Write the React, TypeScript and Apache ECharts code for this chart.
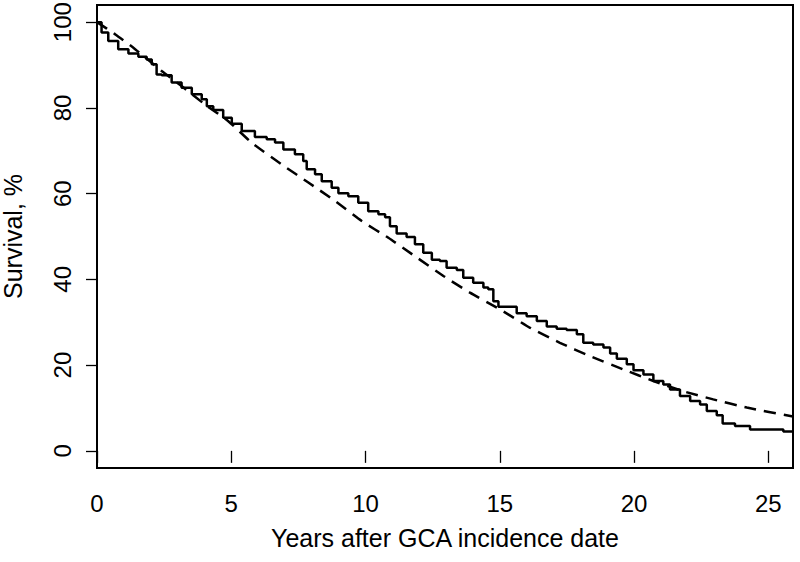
import React, { useEffect, useRef } from "react";
import * as echarts from "echarts";

// Kaplan-Meier observed survival (years, %)
const kmTime = [0, 0.17, 0.42, 0.79, 1.17, 1.54, 1.85, 2.04, 2.22, 2.41, 2.78, 3.15, 3.53, 3.9, 4.09, 4.33, 4.7, 5.02, 5.39, 5.88, 6.32, 6.63, 6.94, 7.37, 7.68, 7.81, 8.12, 8.37, 8.74, 8.99, 9.36, 9.73, 10.1, 10.48, 10.73, 10.91, 11.16, 11.53, 11.84, 12.15, 12.47, 12.77, 13.02, 13.4, 13.64, 14.01, 14.39, 14.57, 14.76, 14.95, 15.63, 16.0, 16.38, 16.75, 17.12, 17.49, 17.87, 18.11, 18.48, 18.86, 19.11, 19.36, 19.73, 19.98, 20.35, 20.72, 21.09, 21.34, 21.71, 22.09, 22.46, 22.71, 23.08, 23.3, 23.76, 24.32, 25.56, 25.92];
const kmSurv = [100, 97.6, 95.6, 93.7, 92.7, 91.9, 91.3, 90.2, 87.8, 87.6, 85.9, 84.7, 83.2, 82.0, 80.4, 79.5, 77.7, 76.3, 74.6, 73.2, 72.7, 71.9, 70.3, 69.2, 67.6, 65.7, 64.5, 62.9, 61.4, 60.1, 59.4, 57.9, 55.9, 55.2, 54.5, 52.4, 50.7, 49.9, 48.2, 46.2, 44.6, 44.3, 42.7, 42.2, 40.4, 39.2, 38.1, 37.7, 34.9, 33.6, 32.1, 31.4, 30.3, 29.0, 28.5, 28.2, 27.2, 25.2, 24.8, 24.1, 22.7, 21.5, 20.2, 18.8, 17.8, 16.3, 15.5, 14.3, 12.8, 11.6, 10.8, 9.3, 8.3, 6.4, 5.8, 5.0, 4.5, 4.5];

// Expected survival (dashed)
const expTime = [0, 0.67, 1.42, 2.41, 3.15, 4.02, 4.89, 5.76, 6.88, 7.87, 8.86, 9.86, 10.85, 11.84, 12.9, 13.89, 15.01, 16.13, 17.24, 18.36, 19.6, 20.72, 21.84, 22.95, 24.2, 25.92];
const expSurv = [100, 97.2, 93.7, 88.6, 85.1, 80.8, 76.9, 71.9, 66.8, 62.6, 58.3, 53.6, 49.7, 45.4, 40.8, 36.9, 33.0, 28.7, 25.2, 22.1, 19.0, 16.3, 13.9, 12.0, 10.1, 8.0];

const xTicks = [0, 5, 10, 15, 20, 25];
const yTicks = [0, 20, 40, 60, 80, 100];

const FONT = "'Liberation Sans', Arial, Helvetica, sans-serif";

export default function App() {
  const ref = useRef<HTMLDivElement>(null);
  useEffect(() => {
    if (!ref.current) return;
    const chart = echarts.init(ref.current, undefined, { renderer: "svg" });
    chart.setOption({
      animation: false,
      backgroundColor: "#ffffff",
      grid: {
        left: 97,
        right: 7,
        top: 5,
        bottom: 94,
        containLabel: false,
        outerBoundsMode: "none",
        show: true,
        borderColor: "#000",
        borderWidth: 2,
        backgroundColor: "transparent",
      },
      xAxis: {
        type: "value",
        min: 0,
        max: 25.92,
        name: "Years after GCA incidence date",
        nameLocation: "middle",
        nameGap: 57,
        nameTextStyle: { fontFamily: FONT, fontSize: 25, color: "#000" },
        axisLine: { show: false },
        splitLine: { show: false },
        axisTick: {
          show: true,
          length: 12,
          customValues: xTicks,
          lineStyle: { color: "#000", width: 1.3 },
        },
        axisLabel: {
          customValues: xTicks,
          margin: 23,
          fontFamily: FONT,
          fontSize: 24,
          color: "#000",
        },
      },
      yAxis: {
        type: "value",
        min: -4,
        max: 104,
        name: "Survival, %",
        nameLocation: "middle",
        nameGap: 72,
        nameRotate: 90,
        nameTextStyle: { fontFamily: FONT, fontSize: 25, color: "#000" },
        axisLine: { show: false },
        splitLine: { show: false },
        axisTick: {
          show: true,
          length: 11,
          customValues: yTicks,
          lineStyle: { color: "#000", width: 1.3 },
        },
        axisLabel: {
          customValues: yTicks,
          rotate: 90,
          margin: 23,
          fontFamily: FONT,
          fontSize: 24,
          color: "#000",
        },
      },
      series: [
        {
          type: "line",
          name: "Expected",
          data: expTime.map((t, i) => [t, expSurv[i]]),
          showSymbol: false,
          smooth: 0.2,
          lineStyle: { color: "#000", width: 2.5, type: [12, 8] },
          silent: true,
        },
        {
          type: "line",
          name: "Observed",
          data: kmTime.map((t, i) => [t, kmSurv[i]]),
          showSymbol: false,
          step: "end",
          lineStyle: { color: "#000", width: 2.5 },
          silent: true,
        },
      ],
    });
    return () => chart.dispose();
  }, []);
  return (
    <div
      ref={ref}
      style={{ position: "absolute", left: 0, top: 0, width: 800, height: 562 }}
    />
  );
}
